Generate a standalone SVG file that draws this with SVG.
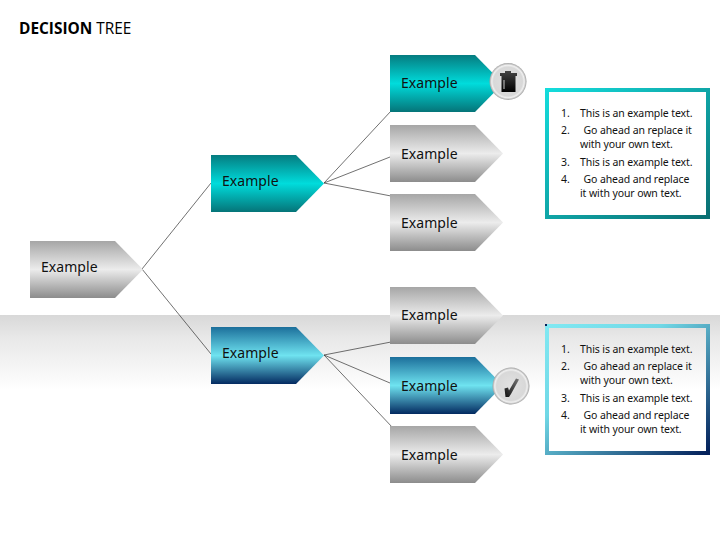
<svg xmlns="http://www.w3.org/2000/svg" width="720" height="540" viewBox="0 0 720 540">
<style>
.l{font:14px "Noto Sans","DejaVu Sans",sans-serif;fill:#111;letter-spacing:.05px}
.t{font:10.5px "Noto Sans","DejaVu Sans",sans-serif;fill:#111;letter-spacing:-.1px}
.title{font:15.400px "Open Sans","Liberation Sans",sans-serif;fill:#000}
.c line{stroke:#333;stroke-width:.7}
.tb{fill:none;stroke-width:4}
.g{fill:url(#gray)}.a{fill:url(#teal)}.b{fill:url(#blue)}
</style>
<defs>
<linearGradient id="gray" x1="0" y1="0" x2="0" y2="1"><stop offset="0" stop-color="#a6a6a6"/><stop offset=".5" stop-color="#ececec"/><stop offset="1" stop-color="#8c8c8c"/></linearGradient>
<linearGradient id="teal" x1="0" y1="0" x2="0" y2="1"><stop offset="0" stop-color="#057c80"/><stop offset=".5" stop-color="#00dcdc"/><stop offset="1" stop-color="#057478"/></linearGradient>
<linearGradient id="blue" x1="0" y1="0" x2="0" y2="1"><stop offset="0" stop-color="#1c6f9b"/><stop offset=".5" stop-color="#6fe3f0"/><stop offset="1" stop-color="#032a60"/></linearGradient>
<linearGradient id="band" x1="0" y1="0" x2="0" y2="1"><stop offset="0" stop-color="#d8d8d8"/><stop offset=".3" stop-color="#e8e8e8"/><stop offset="1" stop-color="#ffffff"/></linearGradient>
<linearGradient id="bt" x1="0" y1="0" x2="1" y2="1"><stop offset="0" stop-color="#14dcdc"/><stop offset="1" stop-color="#0a6f72"/></linearGradient>
<linearGradient id="bb" x1="0" y1="0" x2="1" y2="1"><stop offset="0" stop-color="#80e8f2"/><stop offset=".35" stop-color="#70d8e6"/><stop offset="1" stop-color="#03205a"/></linearGradient>
<radialGradient id="disc" cx=".5" cy=".5" r=".5"><stop offset="0" stop-color="#e2e2e2"/><stop offset=".78" stop-color="#d8d8d8"/><stop offset=".88" stop-color="#f0f0f0"/><stop offset="1" stop-color="#a0a0a0"/></radialGradient>
<linearGradient id="bin" x1="0" y1="0" x2="0" y2="1"><stop offset="0" stop-color="#444"/><stop offset="1" stop-color="#000"/></linearGradient>
<linearGradient id="tick" x1="1" y1="0" x2="0" y2="1"><stop offset="0" stop-color="#777"/><stop offset="1" stop-color="#111"/></linearGradient>
<path id="p" d="M0 0H85L113 28.500L85 57H0Z"/>
</defs>
<rect width="720" height="540" fill="#fff"/>
<rect x="0" y="315" width="720" height="75" fill="url(#band)"/>
<text class="title" x="19" y="34"><tspan font-weight="700">DECISION</tspan> TREE</text>
<g class="c" id="connectors">
<line x1="142" y1="269" x2="211" y2="183"/>
<line x1="142" y1="269" x2="211" y2="354"/>
<line x1="324" y1="183" x2="391" y2="111"/>
<line x1="324" y1="183" x2="390" y2="157"/>
<line x1="324" y1="183" x2="391" y2="196"/>
<line x1="324" y1="355" x2="391" y2="342"/>
<line x1="324" y1="355" x2="390" y2="383"/>
<line x1="324" y1="355" x2="393" y2="428"/>
</g>
<g id="n-root"><use href="#p" x="30" y="241" class="g"/><text class="l" x="41" y="272">Example</text></g>
<g id="n-top"><use href="#p" x="211" y="155" class="a"/><text class="l" x="222" y="186">Example</text></g>
<g id="n-bottom"><use href="#p" x="211" y="327" class="b"/><text class="l" x="222" y="358">Example</text></g>
<g id="n-a1"><use href="#p" x="390" y="55" class="a"/><text class="l" x="401" y="88">Example</text></g>
<g id="n-a2"><use href="#p" x="390" y="125" class="g"/><text class="l" x="401" y="159">Example</text></g>
<g id="n-a3"><use href="#p" x="390" y="194" class="g"/><text class="l" x="401" y="228">Example</text></g>
<g id="n-b1"><use href="#p" x="390" y="287" class="g"/><text class="l" x="401" y="320">Example</text></g>
<g id="n-b2"><use href="#p" x="390" y="357" class="b"/><text class="l" x="401" y="391">Example</text></g>
<g id="n-b3"><use href="#p" x="390" y="426" class="g"/><text class="l" x="401" y="460">Example</text></g>
<g id="icon-bin">
<circle cx="508" cy="81.500" r="18.500" fill="url(#disc)"/>
<path d="M500 73H505V71H511V73H517V76H515.500V92H501.500V76H500Z" fill="url(#bin)"/>
<rect x="503.500" y="80" width="1" height="9" fill="#ccc"/>
</g>
<g id="icon-check">
<circle cx="511" cy="386" r="18.500" fill="url(#disc)"/>
<path d="M504.500 388.500L508 387.500L509 390.500L516 378.500L519 379.500L511 394L509 397H505.500Z" fill="url(#tick)"/>
</g>
<g id="box-a">
<rect class="tb" x="547" y="90" width="161" height="127" stroke="url(#bt)"/>
<text class="t"><tspan x="561" y="117">1.</tspan><tspan x="580" y="117">This is an example text.</tspan>
<tspan x="561" y="134">2.</tspan><tspan x="583.500" y="134">Go ahead an replace it</tspan>
<tspan x="580" y="148">with your own text.</tspan>
<tspan x="561" y="166">3.</tspan><tspan x="580" y="166">This is an example text.</tspan>
<tspan x="561" y="183">4.</tspan><tspan x="583.500" y="183">Go ahead and replace</tspan>
<tspan x="580" y="197">it with your own text.</tspan></text>
</g>
<g id="box-b">
<rect class="tb" x="547" y="326" width="161" height="127" stroke="url(#bb)"/>
<rect x="545" y="324" width="2" height="2" fill="#03205a"/>
<text class="t"><tspan x="561" y="353">1.</tspan><tspan x="580" y="353">This is an example text.</tspan>
<tspan x="561" y="370">2.</tspan><tspan x="583.500" y="370">Go ahead an replace it</tspan>
<tspan x="580" y="384">with your own text.</tspan>
<tspan x="561" y="402">3.</tspan><tspan x="580" y="402">This is an example text.</tspan>
<tspan x="561" y="419">4.</tspan><tspan x="583.500" y="419">Go ahead and replace</tspan>
<tspan x="580" y="433">it with your own text.</tspan></text>
</g>
</svg>
